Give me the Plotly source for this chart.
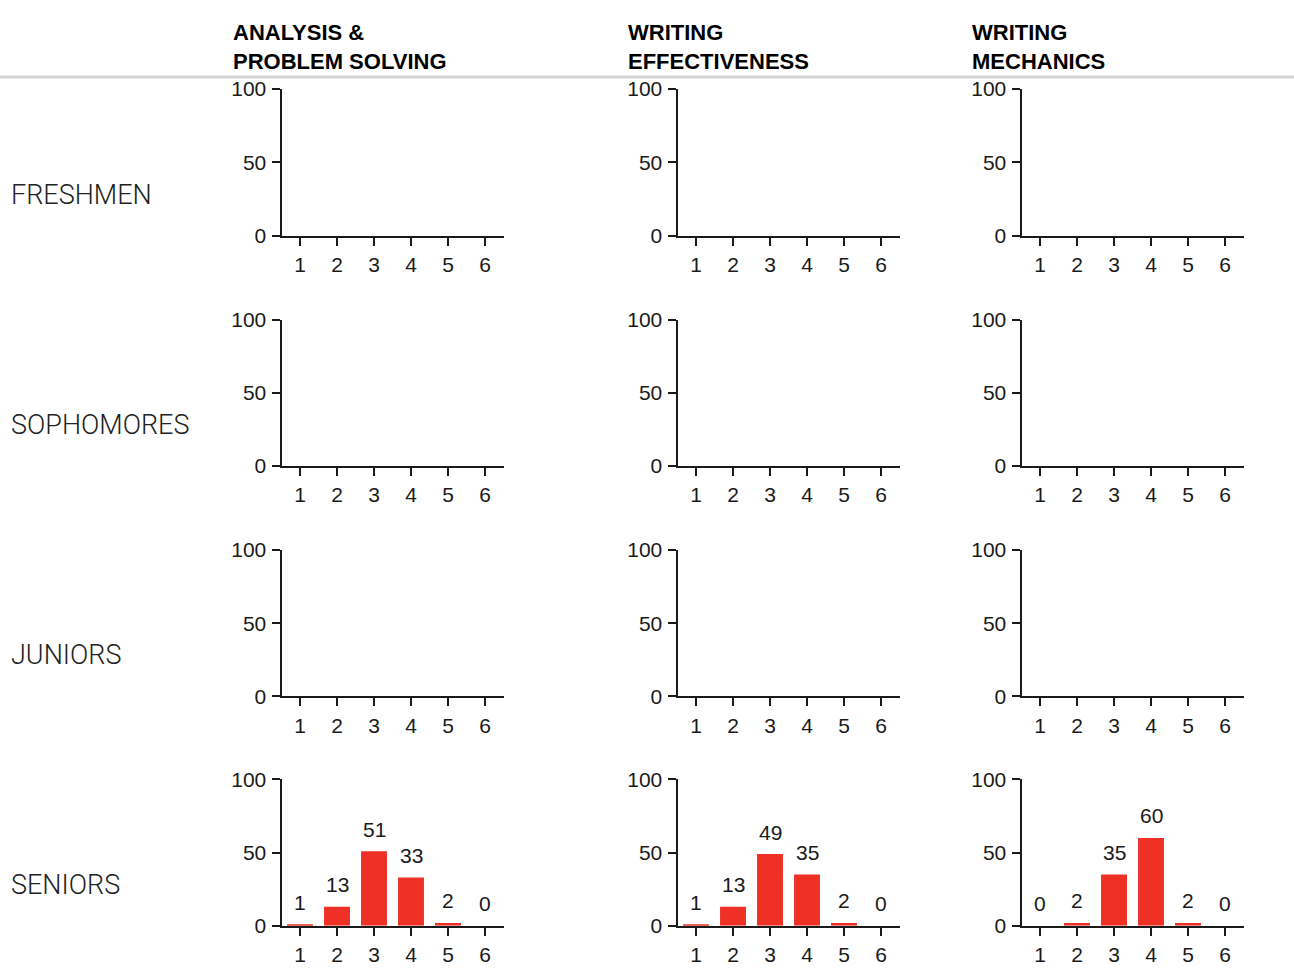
import plotly.graph_objects as go

W, H = 1294, 971

categories = [1, 2, 3, 4, 5, 6]
row_labels = ["FRESHMEN", "SOPHOMORES", "JUNIORS", "SENIORS"]
col_titles = ["ANALYSIS &<br>PROBLEM SOLVING", "WRITING<br>EFFECTIVENESS", "WRITING<br>MECHANICS"]
y_ticks = [0, 50, 100]

# values[row][col]; None = no data shown
freshmen = [None, None, None]
sophomores = [None, None, None]
juniors = [None, None, None]
seniors_analysis = [1, 13, 51, 33, 2, 0]
seniors_effectiveness = [1, 13, 49, 35, 2, 0]
seniors_mechanics = [0, 2, 35, 60, 2, 0]
seniors = [seniors_analysis, seniors_effectiveness, seniors_mechanics]
values = [freshmen, sophomores, juniors, seniors]

BAR = "#ee3124"
INK = "#1a1a1a"
NUMFONT = "Liberation Sans, Arial"
NUMSIZE = 21

# layout in pixels
col_x = [(281.5, 503.5), (677.5, 899.5), (1021.5, 1243.5)]
row_y = [(79, 229), (315, 465), (551, 701), (786, 936)]
header_x = [231, 626, 970]
rowlabel_y = [187, 423, 659, 894]

fig = go.Figure()
layout = {}
annotations = []
k = 0
for r in range(4):
    for c in range(3):
        k += 1
        xa = "x" if k == 1 else f"x{k}"
        ya = "y" if k == 1 else f"y{k}"
        x0, x1 = col_x[c]
        top, bot = row_y[r]
        layout["xaxis" if k == 1 else f"xaxis{k}"] = dict(
            domain=[x0 / W, x1 / W], range=[0.5, 6.5], anchor=ya,
            tickvals=categories, ticktext=[str(v) for v in categories],
            ticks="outside", ticklen=8, tickwidth=2, tickcolor=INK,
            showline=True, linewidth=2, linecolor=INK, showgrid=False, zeroline=False,
            tickfont=dict(family=NUMFONT, size=NUMSIZE, color=INK),
            ticklabelstandoff=1, fixedrange=True,
        )
        layout["yaxis" if k == 1 else f"yaxis{k}"] = dict(
            domain=[1 - bot / H, 1 - top / H], range=[0, 100], anchor=xa,
            tickvals=y_ticks, ticks="outside", ticklen=8, tickwidth=2, tickcolor=INK,
            showline=True, linewidth=2, linecolor=INK, showgrid=False, zeroline=False,
            tickfont=dict(family=NUMFONT, size=NUMSIZE, color=INK),
            ticklabelstandoff=1, fixedrange=True,
        )
        vals = values[r][c]
        if vals is not None:
            fig.add_trace(go.Bar(
                x=categories, y=vals, xaxis=xa, yaxis=ya, width=0.7,
                marker=dict(color=BAR, line=dict(width=0)), showlegend=False,
                hoverinfo="x+y",
            ))
            for cat, v in zip(categories, vals):
                annotations.append(dict(
                    x=cat, y=v, xref=xa, yref=ya, text=str(v), showarrow=False,
                    xanchor="center", yanchor="middle", yshift=22,
                    font=dict(family=NUMFONT, size=NUMSIZE, color=INK),
                ))
        else:
            # empty panel: keep the axes visible
            fig.add_trace(go.Scatter(
                x=categories, y=[None] * len(categories), xaxis=xa, yaxis=ya,
                mode="markers", showlegend=False, hoverinfo="skip",
            ))

for c, t in enumerate(col_titles):
    annotations.append(dict(
        x=header_x[c] / W, y=1 - 36 / H, xref="paper", yref="paper", text=t,
        showarrow=False, xanchor="left", yanchor="middle", align="left",
        font=dict(family="Liberation Sans, Arial", size=22, color="#000000", weight="bold"),
    ))

for r, t in enumerate(row_labels):
    annotations.append(dict(
        x=9 / W, y=1 - rowlabel_y[r] / H, xref="paper", yref="paper", text=t,
        showarrow=False, xanchor="left", yanchor="middle",
        font=dict(family="Roboto", size=27, color="#222222", weight=300),
    ))

layout["annotations"] = annotations
layout["shapes"] = [dict(type="line", xref="paper", yref="paper", x0=0, x1=1,
                         y0=1 - 66.5 / H, y1=1 - 66.5 / H,
                         line=dict(color="#d3d3d3", width=3))]
fig.update_layout(**layout)
fig.update_layout(width=W, height=H, margin=dict(l=0, r=0, t=0, b=0),
                  paper_bgcolor="white", plot_bgcolor="white", bargap=0.3,
                  showlegend=False)
fig.write_html(
    "out.html", config={"displayModeBar": False},
    post_script=(
        "document.documentElement.style.margin='0';"
        "document.body.style.margin='0';document.body.style.padding='0';"
        "var d=document.getElementById('{plot_id}');"
        "d.style.position='fixed';d.style.top='0';d.style.left='0';"
    ),
)
